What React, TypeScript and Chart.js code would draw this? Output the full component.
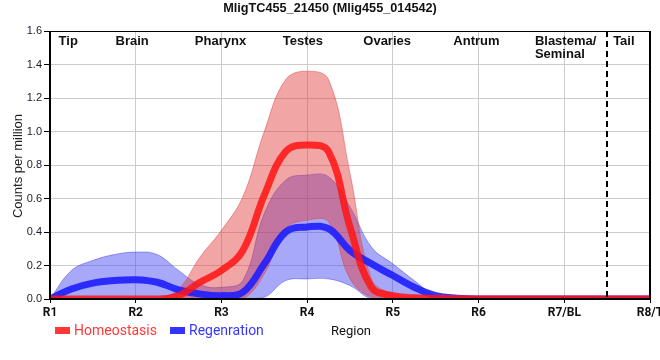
import React, { useEffect, useRef } from "react";
import { Chart, registerables } from "chart.js";

Chart.register(...registerables);

// ---------- data ----------
const TITLE = "MligTC455_21450 (Mlig455_014542)";
const xTickLabels = ["R1", "R2", "R3", "R4", "R5", "R6", "R7/BL", "R8/T"];
const regionNames = ["Tip", "Brain", "Pharynx", "Testes", "Ovaries", "Antrum", "Blastema/\nSeminal", "Tail"];
const seriesNames = ["Homeostasis", "Regenration"];

const positions = [1, 1.25, 1.5, 1.75, 2, 2.25, 2.5, 2.75, 3, 3.25, 3.5, 3.75, 4, 4.25, 4.5, 4.75, 5, 5.25, 5.5, 5.75, 6, 7, 8];

const homeoMean = [0, 0, 0, 0, 0, 0, 0.02, 0.1, 0.17, 0.29, 0.62, 0.88, 0.92, 0.88, 0.43, 0.07, 0.02, 0.008, 0.004, 0.002, 0, 0, 0];
const homeoUpper = [0, 0, 0, 0, 0, 0, 0.06, 0.25, 0.41, 0.61, 1.0, 1.31, 1.36, 1.31, 0.75, 0.12, 0.03, 0.01, 0, 0, 0, 0, 0];
const homeoLower = [0, 0, 0, 0, 0, 0, 0, 0, 0, 0, 0.15, 0.42, 0.47, 0.46, 0.12, 0.01, 0, 0, 0, 0, 0, 0, 0];

const regenMean = [0, 0.06, 0.095, 0.11, 0.115, 0.1, 0.055, 0.03, 0.02, 0.04, 0.21, 0.4, 0.43, 0.42, 0.29, 0.21, 0.14, 0.07, 0.02, 0.005, 0, 0, 0];
const regenUpper = [0, 0.17, 0.23, 0.265, 0.28, 0.265, 0.17, 0.085, 0.07, 0.11, 0.51, 0.71, 0.74, 0.73, 0.55, 0.31, 0.21, 0.11, 0.02, 0.005, 0, 0, 0];
const regenLower = [0, 0, 0, 0, 0, 0, 0, 0, 0, 0, 0.01, 0.11, 0.12, 0.12, 0.08, 0, 0, 0, 0, 0, 0, 0, 0];

const tailBoundary = 7.5;
// ---------- layout / style ----------
const regionLabelAt = [1.1, 1.765, 2.69, 3.715, 4.655, 5.706, 6.657, 7.57];

const RED_LINE = "rgba(255,20,20,0.85)";
const BLUE_LINE = "rgba(30,30,255,0.9)";
const RED_BAND = "rgba(226,55,55,0.45)";
const BLUE_BAND = "rgba(62,62,240,0.45)";
const RED_EDGE = "rgba(220,60,60,0.45)";
const BLUE_EDGE = "rgba(60,60,230,0.45)";

const toPts = (vals: number[]) => vals.map((v, i) => ({ x: positions[i], y: v }));

export default function App() {
  const ref = useRef<HTMLCanvasElement>(null);

  useEffect(() => {
    const canvas = ref.current!;
    const overlay = {
      id: "overlay",
      afterDatasetsDraw(chart: any) {
        const { ctx, chartArea: a, scales } = chart;
        ctx.save();
        ctx.strokeStyle = "#000";
        ctx.lineWidth = 2;
        ctx.beginPath();
        ctx.moveTo(a.left, a.top);
        ctx.lineTo(a.left, a.bottom);
        ctx.lineTo(a.right, a.bottom);
        ctx.lineTo(a.right, a.top);
        ctx.stroke();
        ctx.lineWidth = 1;
        ctx.beginPath();
        ctx.moveTo(a.left, a.top + 0.5);
        ctx.lineTo(a.right, a.top + 0.5);
        ctx.stroke();
        const dx = Math.round(scales.x.getPixelForValue(tailBoundary));
        ctx.lineWidth = 2;
        ctx.setLineDash([6, 4]);
        ctx.beginPath();
        ctx.moveTo(dx, a.top);
        ctx.lineTo(dx, a.bottom);
        ctx.stroke();
        ctx.restore();
      },
      afterDraw(chart: any) {
        const { ctx, chartArea: a, scales } = chart;
        ctx.save();
        ctx.fillStyle = "#111";
        ctx.font = "bold 12.7px 'Liberation Sans', Arial, sans-serif";
        ctx.textAlign = "center";
        ctx.textBaseline = "middle";
        ctx.fillText(TITLE, 330, 8.5);
        ctx.font = "bold 13px 'Liberation Sans', Arial, sans-serif";
        ctx.textAlign = "left";
        regionNames.forEach((name, i) => {
          const x = scales.x.getPixelForValue(regionLabelAt[i]);
          name.split("\n").forEach((line, j) => {
            ctx.fillText(line, x, 41 + j * 13);
          });
        });
        ctx.save();
        ctx.translate(18, (a.top + a.bottom) / 2 + 1);
        ctx.rotate(-Math.PI / 2);
        ctx.font = "13px 'Liberation Sans', Arial, sans-serif";
        ctx.fillStyle = "#222";
        ctx.textAlign = "center";
        ctx.textBaseline = "middle";
        ctx.fillText("Counts per million", 0, 0);
        ctx.restore();
        const ly = 331;
        ctx.font = "14px Roboto, sans-serif";
        ctx.textBaseline = "middle";
        ctx.textAlign = "left";
        ctx.fillStyle = RED_LINE;
        ctx.fillRect(55, ly - 4, 15, 7);
        ctx.fillText(seriesNames[0], 74, ly);
        ctx.fillStyle = BLUE_LINE;
        ctx.fillRect(170, ly - 4, 15, 7);
        ctx.fillText(seriesNames[1], 189, ly);
        ctx.fillStyle = "#111";
        ctx.font = "13px Roboto, sans-serif";
        ctx.textAlign = "center";
        ctx.fillText("Region", 351, ly + 1);
        ctx.restore();
      },
    };

    const lineCommon = {
      pointRadius: 0,
      pointHoverRadius: 0,
      tension: 0.4,
      clip: 0,
    };

    const chart = new Chart(canvas, {
      type: "line",
      data: {
        datasets: [
          { ...lineCommon, label: "regenLower", data: toPts(regenLower), borderColor: BLUE_EDGE, borderWidth: 1, fill: false, order: 5 },
          { ...lineCommon, label: "regenUpper", data: toPts(regenUpper), borderColor: BLUE_EDGE, borderWidth: 1, backgroundColor: BLUE_BAND, fill: "-1", order: 4 },
          { ...lineCommon, label: "homeoLower", data: toPts(homeoLower), borderColor: RED_EDGE, borderWidth: 1, fill: false, order: 3 },
          { ...lineCommon, label: "homeoUpper", data: toPts(homeoUpper), borderColor: RED_EDGE, borderWidth: 1, backgroundColor: RED_BAND, fill: "-1", order: 2 },
          { ...lineCommon, label: seriesNames[1], data: toPts(regenMean), borderColor: BLUE_LINE, borderWidth: 7, fill: false, order: 1 },
          { ...lineCommon, label: seriesNames[0], data: toPts(homeoMean), borderColor: RED_LINE, borderWidth: 7, fill: false, order: 0 },
        ],
      },
      options: {
        responsive: false,
        animation: false,
        events: [],
        layout: { padding: { top: 31, right: 10, bottom: 31, left: 0 } },
        plugins: {
          legend: { display: false },
          title: { display: false },
          tooltip: { enabled: false },
        },
        scales: {
          x: {
            type: "linear",
            min: 1,
            max: 8,
            ticks: {
              stepSize: 1,
              autoSkip: false,
              maxRotation: 0,
              padding: 3,
              color: "#111",
              font: { family: "Roboto", weight: "bold", size: 12 },
              callback: (v: any) => xTickLabels[Math.round(Number(v)) - 1] ?? "",
            },
            grid: { color: "#cccccc", tickColor: "#000", tickLength: 4, lineWidth: 1 },
            border: { display: false },
            afterFit(s: any) {
              s.height = 30;
              s.paddingLeft = 0;
              s.paddingRight = 0;
            },
          },
          y: {
            min: 0,
            max: 1.6,
            ticks: {
              stepSize: 0.2,
              padding: 2,
              color: "#1a1a2a",
              font: { family: "Liberation Sans", size: 11 },
              callback: (v: any) => Number(v).toFixed(1),
            },
            grid: { color: "#cccccc", tickColor: "#000", tickLength: 6, lineWidth: 1 },
            border: { display: false },
            afterFit(s: any) {
              s.width = 50;
              s.paddingTop = 0;
              s.paddingBottom = 0;
            },
          },
        },
      },
      plugins: [overlay],
    } as any);

    return () => chart.destroy();
  }, []);

  return (
    <div style={{ position: "fixed", left: 0, top: 0, width: 660, height: 360, background: "#fff" }}>
      <canvas ref={ref} width={660} height={360} style={{ width: 660, height: 360, display: "block" }} />
    </div>
  );
}
